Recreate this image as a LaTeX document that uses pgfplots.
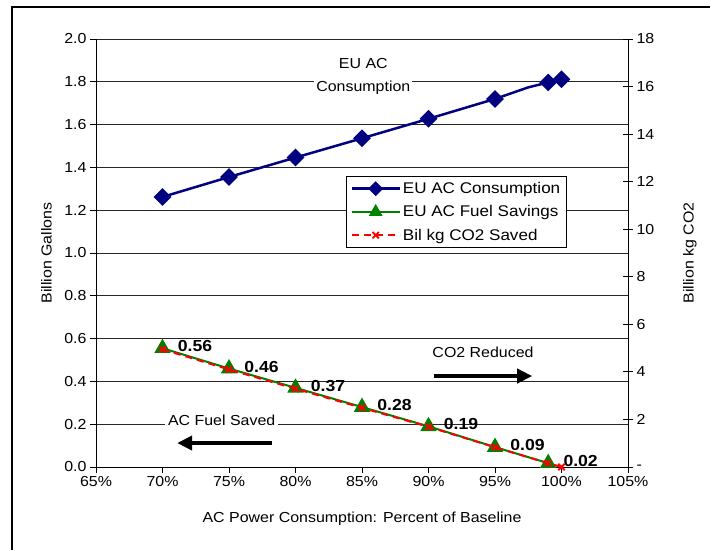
\documentclass[border=0pt]{standalone}
\usepackage{pgfplots}
\pgfplotsset{compat=1.18}
\usetikzlibrary{arrows.meta}
\usepackage{fontspec}
\setmainfont{Liberation Sans}[FakeStretch=1.1]
\definecolor{navyb}{RGB}{0,0,128}
\definecolor{greenb}{RGB}{0,128,0}
\begin{document}
\begin{tikzpicture}[x=1pt,y=1pt]
\path[use as bounding box] (0,0) rectangle (710,550);
\draw[line width=1.5pt] (12,0) -- (12,543) -- (710,543);
% left axis: billion gallons
\begin{axis}[
    at={(96pt,83pt)}, anchor=south west,
    scale only axis, width=532pt, height=428pt,
    xmin=65, xmax=105, ymin=0, ymax=2,
    axis lines*=left,
    xtick={65,70,...,105}, ytick={0,0.2,...,2.0},
    xticklabel={\pgfmathprintnumber{\tick}\%},
    yticklabel style={/pgf/number format/.cd, fixed, fixed zerofill, precision=1},
    /pgf/number format/assume math mode=true,
    tick align=outside, major tick length=6pt,
    tick style={black, line width=0.8pt},
    axis line style={black, line width=1pt},
    ymajorgrids=true,
    grid style={black!85, line width=0.8pt},
    ticklabel style={font=\fontsize{14.5}{16}\selectfont},
    xlabel={AC Power Consumption: Percent of Baseline},
    ylabel={Billion Gallons},
    every axis x label/.style={at={(axis description cs:0.5,-0.1215)}, anchor=center, font=\fontsize{14.5}{16}\selectfont},
    every axis y label/.style={at={(axis description cs:-0.093,0.5)}, rotate=90, anchor=center, font=\fontsize{14.5}{16}\selectfont},
    clip=false,
]
\node[fill=white, align=center, font=\fontsize{14.5}{23}\selectfont, inner sep=2pt] at (axis cs:85.1,1.825) {EU AC\\Consumption};
\node[fill=white, font=\fontsize{14.5}{16}\selectfont, inner sep=3pt] at (axis cs:94.1,0.535) {CO2 Reduced};
\node[fill=white, font=\fontsize{14.5}{16}\selectfont, inner sep=3pt] at (axis cs:74.45,0.22) {AC Fuel Saved};
\draw[-{Triangle[length=15pt,width=14pt]}, line width=4pt] (axis cs:90.4,0.425) -- (axis cs:97.8,0.425);
\draw[-{Triangle[length=15pt,width=14pt]}, line width=4pt] (axis cs:78.2,0.112) -- (axis cs:71.1,0.112);
\addplot[navyb, line width=2.5pt, mark=square*, mark size=5pt, mark options={rotate=45},
    mark indices={1,2,3,4,5,6,8,9}]
    coordinates {(70,1.262) (75,1.355) (80,1.446) (85,1.536) (90,1.627) (95,1.720) (97.5,1.774) (99,1.797) (100,1.812)};
\addplot[greenb, line width=2pt, mark=triangle*, mark size=7.5pt,
    nodes near coords, point meta=explicit symbolic,
    every node near coord/.style={anchor=west, xshift=11pt, yshift=2pt, text=black,
        font=\bfseries\fontsize{16}{18}\selectfont}]
    coordinates {(70,0.555)[0.56] (75,0.46)[0.46] (80,0.37)[0.37] (85,0.28)[0.28] (90,0.19)[0.19] (95,0.093)[0.09] (99,0.018)[0.02]};
\end{axis}
% right axis: billion kg CO2
\begin{axis}[
    at={(96pt,83pt)}, anchor=south west,
    scale only axis, width=532pt, height=428pt,
    xmin=65, xmax=105, ymin=0, ymax=18,
    hide x axis,
    axis y line*=right,
    ytick={0,2,...,18},
    yticklabels={-,2,4,6,8,10,12,14,16,18},
    /pgf/number format/assume math mode=true,
    tick align=center, major tick length=10pt,
    tick style={black, line width=0.8pt},
    axis line style={black, line width=1pt},
    ticklabel style={font=\fontsize{14.5}{16}\selectfont},
    ylabel={Billion kg CO2},
    every axis y label/.style={at={(axis description cs:1.1165,0.5)}, rotate=90, anchor=center, font=\fontsize{14.5}{16}\selectfont},
    legend style={at={(0.47,0.68)}, anchor=north west, draw=black, line width=0.8pt, fill=white,
        font=\fontsize{15.5}{17}\selectfont, row sep=6.5pt, inner sep=4pt},
    legend cell align=left,
    legend image code/.code={\draw[mark repeat=2, mark phase=2, #1] plot coordinates {(0pt,0pt) (24pt,0pt) (48pt,0pt)};},
    clip=false,
]
\addlegendimage{navyb, line width=2.5pt, mark=square*, mark size=4pt, mark options={rotate=45}}
\addlegendentry{EU AC Consumption}
\addlegendimage{greenb, line width=2pt, mark=triangle*, mark size=6pt}
\addlegendentry{EU AC Fuel Savings}
\addplot[red, dashed, dash pattern=on 7pt off 5pt, line width=2pt, mark=x, mark size=4.5pt, mark options={solid, line width=1.8pt}]
    coordinates {(70,4.95) (75,4.10) (80,3.29) (85,2.49) (90,1.69) (95,0.83) (99,0.16) (100,0)};
\addlegendentry{Bil kg CO2 Saved}
\end{axis}
\end{tikzpicture}
\end{document}
